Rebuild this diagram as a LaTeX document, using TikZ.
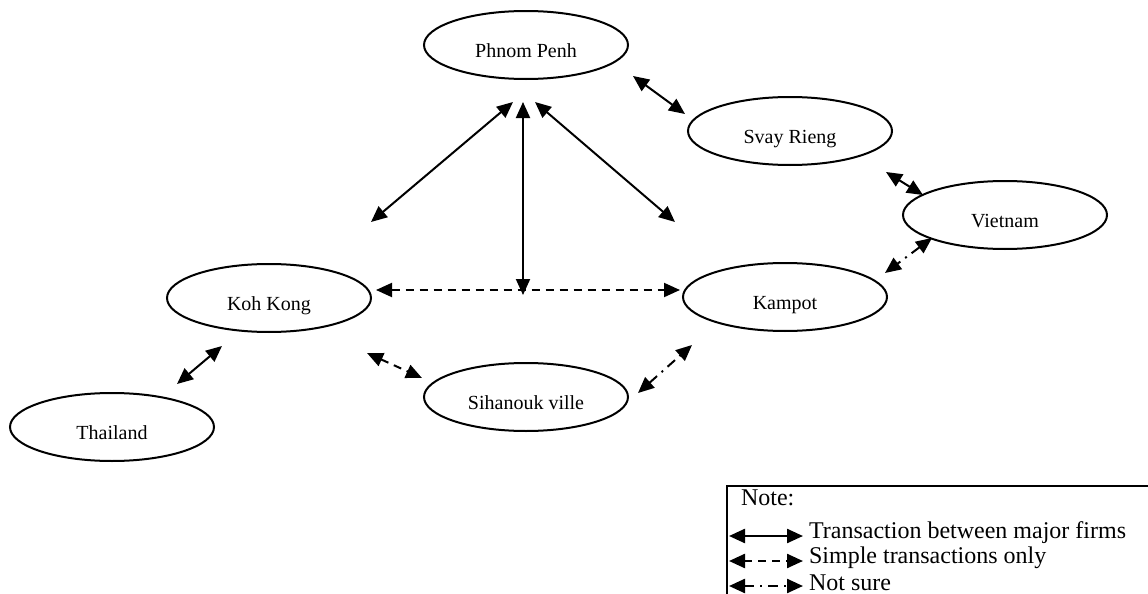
\documentclass[tikz,border=0pt]{standalone}
\usepackage{fontspec}
\setmainfont{Liberation Serif}
\usetikzlibrary{arrows.meta, shapes.geometric}

\begin{document}
\begin{tikzpicture}[
    x=0.5pt, y=-0.5pt,
    place/.style={draw, ellipse, line width=1pt, minimum width=102pt, minimum height=34pt,
      inner sep=0pt, text height=12pt, text depth=0pt, font=\fontsize{10}{12}\selectfont},
    link/.style={{Triangle[length=8pt,width=7pt]}-{Triangle[length=8pt,width=7pt]}, line width=1pt},
    major/.style={link},
    simple/.style={link, dash pattern=on 4pt off 3pt},
    unsure/.style={link, dash pattern=on 5pt off 3pt on 1pt off 3pt},
    note/.style={font=\fontsize{12}{14}\selectfont, anchor=west}
  ]
  \useasboundingbox (0,0) rectangle (1148,594);

  \node[place] (pp) at (526,45)  {Phnom Penh};
  \node[place] (sr) at (790,131) {Svay Rieng};
  \node[place] (vn) at (1005,215) {Vietnam};
  \node[place] (kk) at (269,298) {Koh Kong};
  \node[place] (kp) at (785,297) {Kampot};
  \node[place] (sh) at (526,397) {Sihanouk ville};
  \node[place] (th) at (112,427) {Thailand};

  \coordinate (pp-sr) at (633,76);  \coordinate (sr-pp) at (685,114);
  \coordinate (pp-kk) at (513,102); \coordinate (kk-pp) at (371,222);
  \coordinate (pp-kp) at (535,102); \coordinate (kp-pp) at (675,222);
  \coordinate (pp-mid) at (523,102); \coordinate (mid) at (523,295);
  \coordinate (sr-vn) at (886,172); \coordinate (vn-sr) at (923,195);
  \coordinate (kk-th) at (222,346); \coordinate (th-kk) at (177,384);
  \coordinate (kk-kp) at (376,290); \coordinate (kp-kk) at (680,290);
  \coordinate (kk-sh) at (367,353); \coordinate (sh-kk) at (422,378);
  \coordinate (vn-kp) at (932,238); \coordinate (kp-vn) at (885,273);
  \coordinate (sh-kp) at (638,393); \coordinate (kp-sh) at (692,345);

  \draw[major] (pp-sr) -- (sr-pp);
  \draw[major] (pp-kk) -- (kk-pp);
  \draw[major] (pp-kp) -- (kp-pp);
  \draw[major] (pp-mid) -- (mid);
  \draw[major] (sr-vn) -- (vn-sr);
  \draw[major] (kk-th) -- (th-kk);
  \draw[simple] (kk-kp) -- (kp-kk);
  \draw[simple] (kk-sh) -- (sh-kk);
  \draw[unsure] (vn-kp) -- (kp-vn);
  \draw[unsure] (sh-kp) -- (kp-sh);

  \draw[line width=1pt] (727,594) -- (727,486) -- (1148,486);
  \node[note] (notehead) at (734,498) {Note:};
  \foreach \y/\s/\t in {536/major/Transaction between major firms,
                        561/simple/Simple transactions only,
                        586/unsure/Not sure} {
    \coordinate (\s-a) at (729,\y);
    \coordinate (\s-b) at (803,\y);
    \draw[\s, line width=1.2pt] (\s-a) -- (\s-b);
    \node[note] (\s-txt) at (802,\y-3) {\t};
  }
\end{tikzpicture}
\end{document}
